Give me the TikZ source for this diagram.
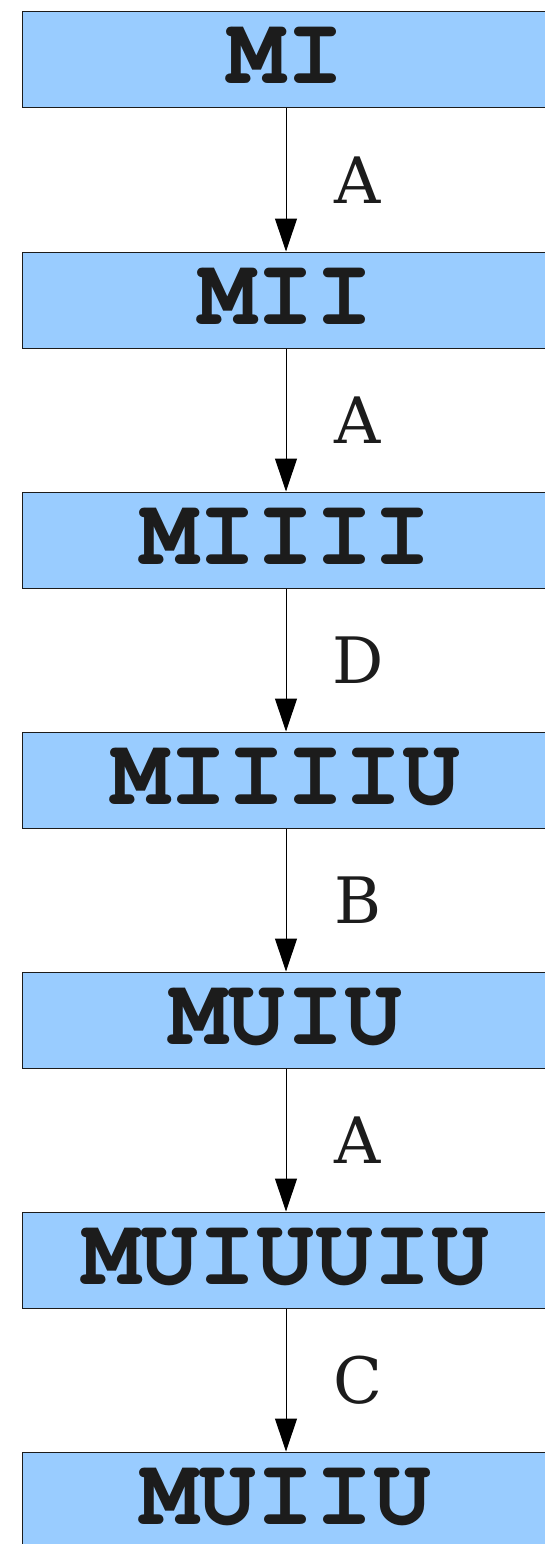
\documentclass[tikz,border=0pt]{standalone}
\usepackage{fontspec}
\newfontfamily\rulefont{DejaVu Serif}
\usetikzlibrary{arrows.meta}
\definecolor{boxfill}{HTML}{99CCFF}
\definecolor{ink}{HTML}{1C1C1C}
\newcommand\wordfont{\fontencoding{OT1}\fontfamily{pcr}\bfseries\fontsize{96.7}{100}\selectfont}
\tikzset{
  wordbox/.style={draw=ink, line width=1pt, fill=boxfill, text=ink,
    minimum width=528pt, minimum height=96pt, inner sep=0pt,
    text height=48pt, text depth=0pt, font=\wordfont},
  derive/.style={draw=black, line width=1pt, -{Triangle[length=33pt,width=22pt]}},
  rulelabel/.style={text=ink, font=\rulefont\fontsize{64}{70}\selectfont,
    inner sep=0pt, text depth=0pt, xshift=72pt}
}
\begin{document}
\begin{tikzpicture}[x=1pt,y=1pt]
  \useasboundingbox (0,0) rectangle (545,-1544);
  \clip (0,0) rectangle (545,-1544);
  \node[wordbox] (s1) at (286,-60)   {MI};
  \node[wordbox] (s2) at (286,-300)  {MII};
  \node[wordbox] (s3) at (286,-540)  {MIIII};
  \node[wordbox] (s4) at (286,-780)  {MIIIIU};
  \node[wordbox] (s5) at (286,-1020) {MUIU};
  \node[wordbox] (s6) at (286,-1260) {MUIUUIU};
  \node[wordbox] (s7) at (286,-1500) {MUIIU};
  \draw[derive] (s1.south) -- node[rulelabel] {A} (s2.north);
  \draw[derive] (s2.south) -- node[rulelabel] {A} (s3.north);
  \draw[derive] (s3.south) -- node[rulelabel] {D} (s4.north);
  \draw[derive] (s4.south) -- node[rulelabel] {B} (s5.north);
  \draw[derive] (s5.south) -- node[rulelabel] {A} (s6.north);
  \draw[derive] (s6.south) -- node[rulelabel] {C} (s7.north);
\end{tikzpicture}
\end{document}
